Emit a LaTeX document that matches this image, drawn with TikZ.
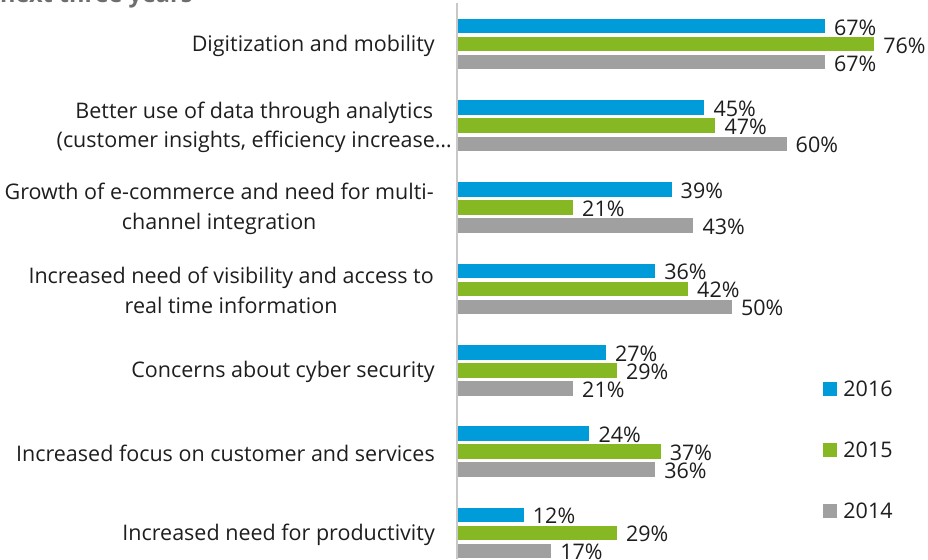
\documentclass[tikz,border=0pt]{standalone}
\usepackage{fontspec}
\setmainfont{Open Sans}
\usetikzlibrary{positioning}
\definecolor{dblue}{HTML}{009CDA}
\definecolor{dgreen}{HTML}{86B823}
\definecolor{dgrey}{HTML}{A0A0A0}
\definecolor{dtext}{HTML}{1E1E1E}
\definecolor{daxis}{HTML}{C8C8C8}
\definecolor{dtitle}{HTML}{6E6E6E}

\begin{document}
\begin{tikzpicture}[x=1pt,y=-1pt,
    bar16/.style ={fill=dblue},
    bar15/.style ={fill=dgreen},
    bar14/.style ={fill=dgrey},
    value/.style ={anchor=west, inner sep=0pt, xshift=9pt, yshift=6pt, text=dtext, font=\fontsize{21.5}{25}\selectfont},
    category/.style ={anchor=east, align=center, inner sep=0pt, text=dtext, font=\fontsize{21.5}{29.5}\selectfont},
    key/.style ={inner sep=0pt, minimum size=14pt},
    keylabel/.style ={inner sep=0pt, text=dtext, font=\fontsize{21.5}{25}\selectfont}]
   \useasboundingbox (0,0) rectangle (928,559);

   \node[anchor=base west, inner sep=0pt, text=dtitle, font=\fontsize{23.5}{28}\bfseries] (title) at (0,2.5) {next three years};

   \draw[daxis, line width=2pt] (457,3) -- (457,559);

   \node[category] (c1) at (435,46) {Digitization and mobility};
   \node[category] (c2) at (452,127.5) {Better use of data through analytics\\(customer insights, efficiency increase…};
   \node[category] (c3) at (434,209) {Growth of e-commerce and need for multi-\\channel integration};
   \node[category] (c4) at (434,290.5) {Increased need of visibility and access to\\real time information};
   \node[category] (c5) at (435,372) {Concerns about cyber security};
   \node[category] (c6) at (435,453) {Increased focus on customer and services};
   \node[category] (c7) at (435,534.5) {Increased need for productivity};

   \fill[bar16] (458,19) rectangle ++(366.8,14.5) node[value] (r1a) {67\%};
   \fill[bar15] (458,37) rectangle ++(416.1,14.5) node[value] (r1b) {76\%};
   \fill[bar14] (458,55) rectangle ++(366.8,14.5) node[value] (r1c) {67\%};

   \fill[bar16] (458,100.5) rectangle ++(246.4,14.5) node[value] (r2a) {45\%};
   \fill[bar15] (458,118.5) rectangle ++(257.3,14.5) node[value] (r2b) {47\%};
   \fill[bar14] (458,136.5) rectangle ++(328.5,14.5) node[value] (r2c) {60\%};

   \fill[bar16] (458,182) rectangle ++(213.5,14.5) node[value] (r3a) {39\%};
   \fill[bar15] (458,200) rectangle ++(115.0,14.5) node[value] (r3b) {21\%};
   \fill[bar14] (458,218) rectangle ++(235.4,14.5) node[value] (r3c) {43\%};

   \fill[bar16] (458,263.5) rectangle ++(197.1,14.5) node[value] (r4a) {36\%};
   \fill[bar15] (458,281.5) rectangle ++(230.0,14.5) node[value] (r4b) {42\%};
   \fill[bar14] (458,299.5) rectangle ++(273.8,14.5) node[value] (r4c) {50\%};

   \fill[bar16] (458,345) rectangle ++(147.8,14.5) node[value] (r5a) {27\%};
   \fill[bar15] (458,363) rectangle ++(158.8,14.5) node[value] (r5b) {29\%};
   \fill[bar14] (458,381) rectangle ++(115.0,14.5) node[value] (r5c) {21\%};

   \fill[bar16] (458,426) rectangle ++(131.4,14.5) node[value] (r6a) {24\%};
   \fill[bar15] (458,444) rectangle ++(202.6,14.5) node[value] (r6b) {37\%};
   \fill[bar14] (458,462) rectangle ++(197.1,14.5) node[value] (r6c) {36\%};

   \fill[bar16] (458,507.5) rectangle ++(65.7,14.5) node[value] (r7a) {12\%};
   \fill[bar15] (458,525.5) rectangle ++(158.8,14.5) node[value] (r7b) {29\%};
   \fill[bar14] (458,543.5) rectangle ++(93.1,14.5) node[value] (r7c) {17\%};

   \node[key, bar16] (k16) at (830,389) {};
   \node[key, bar15] (k15) at (830,450) {};
   \node[key, bar14] (k14) at (830,511) {};
   \node[keylabel, right=6pt of k16] (l16) {2016};
   \node[keylabel, right=6pt of k15] (l15) {2015};
   \node[keylabel, right=6pt of k14] (l14) {2014};
 \end{tikzpicture}
\end{document}
